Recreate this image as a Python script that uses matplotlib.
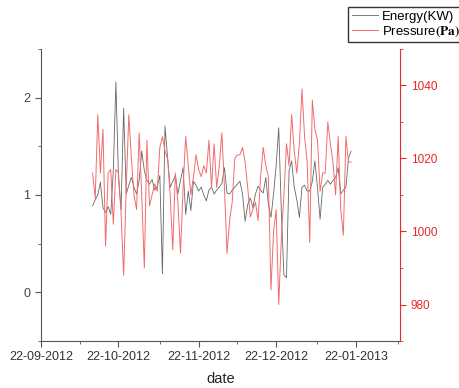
import matplotlib
matplotlib.use("Agg")
import matplotlib.pyplot as plt
import matplotlib.dates as mdates
import numpy as np
import pandas as pd

plt.rcParams['font.family'] = ['Liberation Sans', 'DejaVu Sans']
plt.rcParams['mathtext.fontset'] = 'stix'

dates = pd.date_range('2012-10-12', periods=101, freq='D')

energy = [0.89, 0.95, 1.00, 1.13, 0.87, 0.82, 0.88, 0.80, 1.25, 2.16,
          1.18, 0.85, 1.89, 1.01, 1.10, 1.18, 1.08, 1.01, 1.15, 1.45,
          1.25, 1.15, 1.11, 1.16, 1.05, 1.09, 1.20, 0.19, 1.71, 1.38,
          1.08, 1.14, 1.20, 1.01, 1.15, 1.28, 0.80, 1.04, 0.84, 1.14,
          1.10, 1.04, 1.08, 1.00, 0.94, 1.05, 1.08, 1.01, 1.05, 1.08,
          1.12, 1.28, 1.02, 1.01, 1.05, 1.08, 1.11, 1.14, 1.01, 0.73,
          0.90, 0.97, 0.87, 1.01, 1.09, 1.05, 1.02, 1.18, 0.90, 0.77,
          1.01, 1.30, 1.69, 0.84, 0.18, 0.15, 1.25, 1.35, 1.08, 0.95,
          0.77, 1.08, 1.10, 1.04, 1.04, 1.14, 1.35, 1.08, 0.75, 1.08,
          1.11, 1.15, 1.11, 1.15, 1.18, 1.28, 1.01, 1.05, 1.08, 1.38,
          1.45]

pressure = [1016, 1009, 1032, 1016, 1028, 996, 1016, 1017, 1002, 1017,
            1016, 1005, 988, 1012, 1032, 1020, 1010, 1006, 1027, 1010,
            990, 1025, 1007, 1010, 1013, 1011, 1023, 1026, 1022, 1020,
            1010, 995, 1016, 1008, 994, 1012, 1026, 1018, 1010, 1015,
            1021, 1017, 1015, 1018, 1016, 1025, 1012, 1024, 1012, 1018,
            1027, 1012, 994, 1003, 1008, 1020, 1021, 1021, 1023, 1019,
            1012, 1004, 1006, 1008, 1003, 1015, 1023, 1018, 1015, 984,
            1000, 1006, 980, 998, 1010, 1024, 1018, 1032, 1022, 1016,
            1024, 1039, 1026, 1019, 997, 1036, 1028, 1025, 1011, 1016,
            1016, 1030, 1024, 1019, 1010, 1026, 1006, 999, 1026, 1019,
            1019]

grey = '#555555'
red = '#e8282a'

fig = plt.figure(figsize=(4.6, 3.88), dpi=100)
ax = fig.add_axes([0.089, 0.121, 0.781, 0.753])
ax2 = ax.twinx()

l1, = ax.plot(dates, energy, color='#666666', lw=0.6, label='Energy(KW)')
l2, = ax2.plot(dates, pressure, color='#f26b6b', lw=0.7, label=r'Pressure$\mathbf{(Pa)}$')

ax.set_ylim(-0.5, 2.5)
ax2.set_ylim(970, 1050)
ax.set_xlim(pd.Timestamp('2012-09-22'), pd.Timestamp('2013-02-08'))

ax.set_yticks([0, 1, 2])
ax.set_yticks([-0.5, 0.5, 1.5, 2.5], minor=True)
ax2.set_yticks([980, 1000, 1020, 1040])
ax2.set_yticks([970, 990, 1010, 1030, 1050], minor=True)

ax.xaxis.set_major_locator(mdates.DayLocator(bymonthday=22))
ax.xaxis.set_minor_locator(mdates.DayLocator(bymonthday=7))
ax.xaxis.set_major_formatter(mdates.DateFormatter('%d-%m-%Y'))

for s in ['top', 'right']:
    ax.spines[s].set_visible(False)
for s in ['top', 'left', 'bottom']:
    ax2.spines[s].set_visible(False)
ax.spines['left'].set_color(grey)
ax.spines['bottom'].set_color(grey)
ax2.spines['right'].set_color(red)

ax.tick_params(axis='y', colors=grey, labelsize=9, length=4, width=0.8, labelcolor='#444444')
ax.tick_params(axis='y', which='minor', colors=grey, length=2.5)
ax.tick_params(axis='x', colors=grey, labelsize=9, length=4, width=0.8, labelcolor='#333333')
ax.tick_params(axis='x', which='minor', colors=grey, length=2.5)
ax2.tick_params(axis='y', colors=red, labelsize=8.5, length=4, width=0.8, labelcolor=red)
ax2.tick_params(axis='y', which='minor', colors=red, length=2.5)

ax.set_xlabel('date', fontsize=10.5, color='#222222', labelpad=6)

fig.legend([l1, l2], ['Energy(KW)', r'Pressure$\mathbf{(Pa)}$'],
           loc='upper left', bbox_to_anchor=(0.757, 0.982), borderaxespad=0,
           fontsize=9.5, frameon=True, fancybox=False, edgecolor='#333333',
           framealpha=1, handlelength=2.0, borderpad=0.25, labelspacing=0.15,
           handletextpad=0.3)

fig.savefig('out.png', dpi=100)
